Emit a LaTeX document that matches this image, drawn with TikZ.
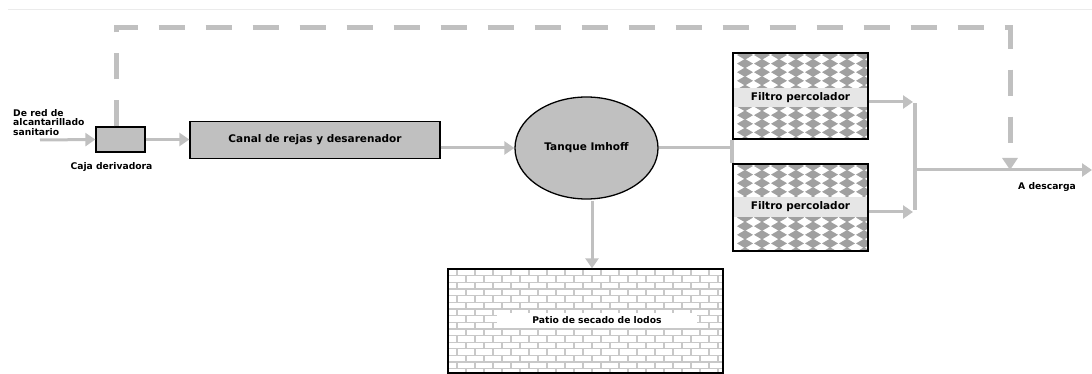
\documentclass[tikz,border=0pt]{standalone}
\usepackage{fontspec}
\newfontfamily\dv{DejaVu Sans}
\usetikzlibrary{arrows.meta,calc,shapes.geometric}
\definecolor{lg}{HTML}{C0C0C0}
\definecolor{dg}{HTML}{A0A0A0}
\definecolor{bandg}{HTML}{E6E6E6}
\definecolor{brickg}{HTML}{C8C8C8}
\begin{document}
\begin{tikzpicture}[x=1pt,y=-1pt,
  flow/.style={draw=lg,line width=3pt,-{Triangle[width=13pt,length=10pt]}},
  pipe/.style={draw=lg,line width=3pt},
  bypass/.style={draw=lg,line width=5pt,dash pattern=on 26pt off 21pt,-{Triangle[width=15pt,length=12pt]}},
  grayfill/.style={draw=black,line width=1.3pt,fill=lg,inner sep=0pt},
  framebox/.style={draw=black,line width=1.3pt,inner sep=0pt},
  lab/.style={font=\dv\bfseries\fontsize{10.5}{12}\selectfont,text=black},
  slab/.style={font=\dv\bfseries\fontsize{9.2}{9.6}\selectfont,text=black},
  dia/.style={fill=dg}]
\useasboundingbox (0,0) rectangle (1092,374);
% faint page rule
\draw[black!8,line width=0.6pt] (8,9) -- (1092,9);

% filter patterns
\foreach \yy in {53,164}{
  \begin{scope}
    \clip (733,\yy) rectangle (868,\yy+87);
    \foreach \i in {0,...,10}{
      \foreach \j in {0,...,8}{
        \fill[dia] ({745+17*\j},{\yy+2+8.6*\i}) +(-8,0) -- +(0,-4.7) -- +(8,0) -- +(0,4.7) -- cycle;
      }
    }
  \end{scope}
}
\fill[bandg] (733,88) rectangle (868,107);
\fill[bandg] (733,197) rectangle (868,217);

% brick pattern
\begin{scope}
  \clip (448,269) rectangle (723,373);
  \foreach \k in {0,...,15}{
    \draw[brickg,line width=1.3pt] (448,{269+6.65*\k}) -- (723,{269+6.65*\k});
    \pgfmathsetmacro{\off}{mod(\k,2)*9}
    \foreach \j in {0,...,15}{
      \draw[brickg,line width=1.3pt] ({457+\off+18*\j},{269+6.65*\k}) -- ({457+\off+18*\j},{269+6.65*(\k+1)});
    }
  }
\end{scope}
\fill[white] (497,313) rectangle (697,328);

% nodes
\node[grayfill,minimum width=49pt,minimum height=25pt] (caja) at (120.5,139.5) {};
\node[grayfill,minimum width=250pt,minimum height=37pt,lab] (canal) at (315,140) {Canal de rejas y desarenador};
\node[grayfill,ellipse,minimum width=143pt,minimum height=102pt,lab] (tq) at (586.5,148) {Tanque Imhoff};
\node[framebox,minimum width=135pt,minimum height=86pt] (f1) at (800.5,96) {};
\node[framebox,minimum width=135pt,minimum height=87pt] (f2) at (800.5,207.5) {};
\node[lab] (f1t) at (800.5,97.5) {Filtro percolador};
\node[lab] (f2t) at (800.5,207) {Filtro percolador};
\node[framebox,minimum width=275pt,minimum height=104pt] (patio) at (585.5,321) {};
\node[slab] (patiot) at (597,320.5) {Patio de secado de lodos};

\node[slab,anchor=north west,align=left,inner sep=0pt] (src) at (13,109) {De red de\\alcantarillado\\sanitario};
\node[slab] (cajat) at (111.5,167) {Caja derivadora};
\node[slab] (desc) at (1047,187) {A descarga};

% coordinates
\coordinate (inp) at (40,140);
\coordinate (j1) at (915,102);
\coordinate (j2) at (915,212);
\coordinate (jm) at (915,170);
\coordinate (out) at (1092,170);
\coordinate (dtop1) at (116,28);
\coordinate (dtop2) at (1010,28);

% connectors
\draw[flow] (inp) -- (caja.west);
\draw[flow] (caja.east) -- (canal.west |- caja.east);
\draw[flow] (canal.east |- tq.west) -- (tq.west);
\draw[pipe] (tq.east) -- (f1.south west |- tq.east);
\draw[draw=lg,line width=4pt] (f1.south west) -- (f2.north west);
\draw[flow] (f1.east |- j1) -- ([xshift=-2pt]j1);
\draw[flow] (f2.east |- j2) -- ([xshift=-2pt]j2);
\draw[draw=lg,line width=4pt] ([yshift=-1.5pt]j1) -- ([yshift=1.5pt]j2);
\draw[flow] (jm) -- (out);
\draw[flow] ([xshift=5.5pt,yshift=-1pt]tq.south) -- ([xshift=5.5pt]tq.south |- patio.north);
\draw[bypass] ([xshift=-4.5pt]caja.north) -- (dtop1) -- (dtop2) -- (dtop2 |- jm);
\end{tikzpicture}
\end{document}
